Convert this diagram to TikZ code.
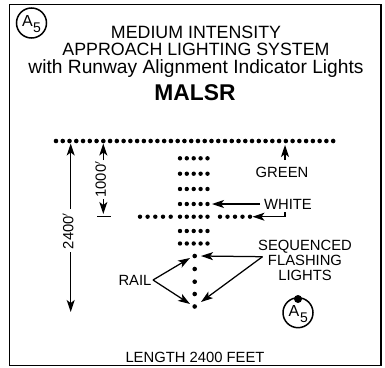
\documentclass[tikz,border=0pt]{standalone}
\usepackage{fontspec}
\setmainfont{Liberation Sans}
\usetikzlibrary{arrows.meta}
\tikzset{
  lbl/.style={inner sep=0pt,anchor=base,font=\fontsize{17.8}{18}\selectfont},
  small/.style={inner sep=0pt,anchor=base,font=\fontsize{14.8}{15}\selectfont},
  dimtext/.style={inner sep=0pt,rotate=90,font=\fontsize{14.8}{15}\selectfont},
  lamp/.style={fill=black,draw=none},
  conn/.style={line width=1.25pt},
  arr/.style={conn,-{Stealth[length=12pt,width=8pt,inset=3pt]}},
  ring/.style={draw,circle,line width=1.5pt,minimum size=30pt,inner sep=0pt},
}
\begin{document}
\begin{tikzpicture}[x=1pt,y=-1pt]
\useasboundingbox (0,0) rectangle (385,367);
\fill[white] (0,0) rectangle (385,367);
\draw[line width=1.6pt] (9.5,4.5) rectangle (381,365.5);
% titles
\node[lbl] (t1) at (196,38) {MEDIUM INTENSITY};
\node[lbl] (t2) at (196,55.5) {APPROACH LIGHTING SYSTEM};
\node[inner sep=0pt,anchor=base,font=\fontsize{19.2}{19}\selectfont] (t3) at (196,73.5) {with Runway Alignment Indicator Lights};
\node[inner sep=0pt,anchor=base,font=\fontsize{22.8}{24}\bfseries\selectfont] (t4) at (195,100.5) {MALSR};
\node[small] (len) at (195,362.5) {LENGTH 2400 FEET};
% lamps
\foreach \i in {0,...,41} \fill[lamp] ({56+\i*6.76},141) circle (2.3pt);
\foreach \y in {158.3,173.7,189,204,216.7,231,243.5}
  \foreach \x in {180,186.8,193.7,200.6,207.5} \fill[lamp] (\x,\y) circle (2.2pt);
\foreach \x in {140,147.6,155.3,163,170.7} \fill[lamp] (\x,216.7) circle (2.2pt);
\foreach \x in {220,227.5,235,242.5,250} \fill[lamp] (\x,216.7) circle (2.2pt);
\foreach \y in {256,269,281.7,294,306.5} \fill[lamp] (194.7,\y) circle (2.3pt);
% labelled dimension texts
\node[dimtext] (d24) at (68,231) {2400$'$};
\node[dimtext] (d10) at (100.5,179.5) {1000$'$};
\node[small] (green) at (282,177) {GREEN};
\node[small] (white) at (288,209) {WHITE};
\node[small] (seq) at (305,250) {SEQUENCED};
\node[small] (fla) at (305,265) {FLASHING};
\node[small] (lig) at (305,280) {LIGHTS};
\node[small] (rail) at (135,285) {RAIL};
% connector ends
\coordinate (topa) at (70.7,143.5);
\coordinate (bota) at (70.7,312);
\coordinate (topb) at (103.3,143.5);
\coordinate (botb) at (103.3,214);
\coordinate (g1) at (285,160);
\coordinate (g2) at (285,145);
\coordinate (w1) at (260,204);
\coordinate (w2) at (212,204);
\coordinate (w3) at (285,212);
\coordinate (w4) at (285,216.7);
\coordinate (w5) at (252.5,216.7);
\coordinate (s0) at (262.5,256.7);
\coordinate (s1) at (201,256);
\coordinate (s2) at (201,302);
\coordinate (r0) at (153,280);
\coordinate (r1) at (190,258);
\coordinate (r2) at (190,304);
\coordinate (tl) at (97,216.7);
\coordinate (tr) at (111,216.7);
% connectors
\draw[arr] (70.7,209) -- (topa);
\draw[arr] (70.7,252) -- (bota);
\draw[arr] (103.3,160) -- (topb);
\draw[arr] (103.3,199) -- (botb);
\draw[conn] (tl) -- (tr);
\draw[arr] (g1) -- (g2);
\draw[arr] (w1) -- (w2);
\draw[arr] (w3) -- (w4) -- (w5);
\draw[arr] (s0) -- (s1);
\draw[arr] (s0) -- (s2);
\draw[arr] (r0) -- (r1);
\draw[arr] (r0) -- (r2);
% symbols
\node[ring] (a1) at (31.5,23) {};
\node[inner sep=0pt,font=\fontsize{16}{16}\selectfont] (a1a) at (27.5,21) {A};
\node[inner sep=0pt,font=\fontsize{14}{14}\selectfont] (a1n) at (37,27.5) {5};
\node[ring] (a2) at (298,312.7) {};
\node[inner sep=0pt,font=\fontsize{16}{16}\selectfont] (a2a) at (294,311) {A};
\node[inner sep=0pt,font=\fontsize{14}{14}\selectfont] (a2n) at (304,317.5) {5};
\fill (298,299) circle (4pt);
\end{tikzpicture}
\end{document}
